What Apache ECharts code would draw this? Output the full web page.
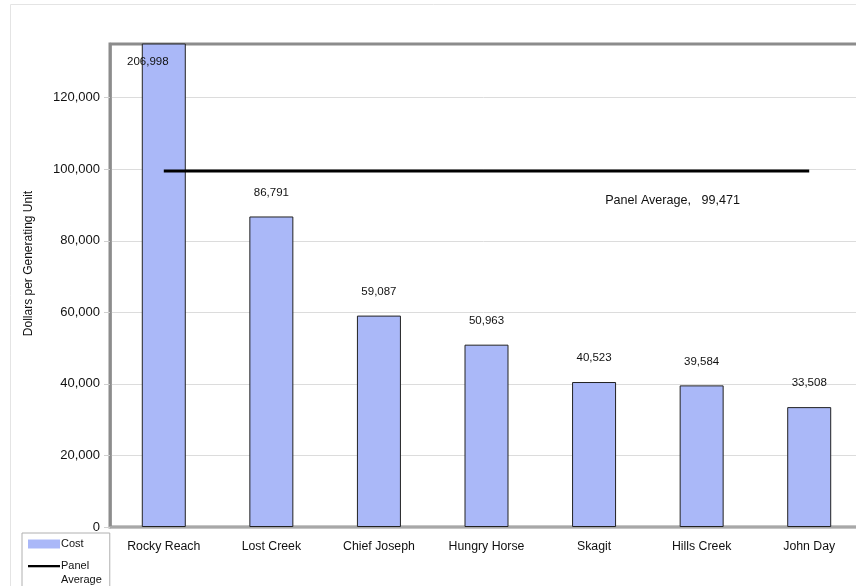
<!DOCTYPE html>
<html>
<head>
<meta charset="utf-8">
<script src="https://cdn.jsdelivr.net/npm/echarts@6/dist/echarts.min.js"></script>
<style>html,body{margin:0;padding:0;background:#fff}#c{width:856px;height:586px}</style>
</head>
<body>
<div id="c"></div>
<script>
const categories = ['Rocky Reach', 'Lost Creek', 'Chief Joseph', 'Hungry Horse', 'Skagit', 'Hills Creek', 'John Day'];
const costValues = [206998, 86791, 59087, 50963, 40523, 39584, 33508];
const panelAverage = 99471;
const averageValues = [99471, 99471, 99471, 99471, 99471, 99471, 99471];
const yTicks = [0, 20000, 40000, 60000, 80000, 100000, 120000];

const fmt = v => v.toLocaleString('en-US');
const font = 'Liberation Sans';

const chart = echarts.init(document.getElementById('c'), null, {renderer: 'canvas'});
chart.setOption({
  animation: false,
  textStyle: {fontFamily: font},
  graphic: [{
    type: 'rect', shape: {x: 10.5, y: 4.5, width: 900, height: 620},
    style: {fill: 'none', stroke: '#e4e4e4', lineWidth: 1}, silent: true, z: -10
  }],
  grid: {left: 110, top: 44, width: 753, bottom: 59, outerBoundsMode: 'none', containLabel: false,
    show: true, borderColor: '#8c8c8c', borderWidth: 3, backgroundColor: 'transparent'},
  legend: {
    orient: 'vertical', left: 22, top: 533, height: 120, itemWidth: 32, itemHeight: 9, itemGap: -6,
    padding: [4, 8, 8, 6], borderColor: '#b0b0b0', borderWidth: 1, backgroundColor: '#fff',
    textStyle: {fontFamily: font, fontSize: 11, color: '#111', padding: [0, 0, 0, -4], lineHeight: 14},
    data: [
      {name: 'Cost', icon: 'rect', itemStyle: {borderWidth: 0}},
      {name: 'Panel Average', icon: 'path://M0,0 M0,3.5 L32,3.5 L32,5.8 L0,5.8 Z M32,9'}
    ],
    formatter: n => n === 'Panel Average' ? ' \nPanel\nAverage' : n
  },
  xAxis: {
    type: 'category', data: categories, boundaryGap: true,
    axisLine: {lineStyle: {color: '#a8a8a8', width: 2}},
    axisTick: {show: false},
    axisLabel: {color: '#111', fontSize: 12.3, margin: 14, fontFamily: font}
  },
  yAxis: {
    type: 'value', min: 0, max: 135000, interval: 20000,
    name: 'Dollars per Generating Unit', nameLocation: 'middle', nameGap: 75,
    nameTextStyle: {color: '#111', fontSize: 12, fontFamily: font, padding: [0, 0, 0, 44]},
    axisLine: {show: true, lineStyle: {color: '#8c8c8c', width: 2.5}},
    axisTick: {show: true, length: 6, lineStyle: {color: '#d0d0d0'}, customValues: yTicks},
    splitLine: {lineStyle: {color: '#dcdcdc', width: 1}},
    axisLabel: {color: '#111', fontSize: 13, margin: 10, fontFamily: font, customValues: yTicks,
      formatter: v => yTicks.includes(v) ? fmt(v) : ''}
  },
  series: [{
    name: 'Cost', type: 'bar', barWidth: 44, clip: true,
    itemStyle: {color: '#aab8f8', borderColor: '#222', borderWidth: 1},
    label: {show: true, position: 'top', distance: 18, color: '#111', fontSize: 11.5, fontFamily: font,
      formatter: p => fmt(p.value)},
    data: costValues.map((v, i) => i === 0 ? {value: v, label: {position: 'insideTop', offset: [-16, -6]}} : v)
  }, {
    name: 'Panel Average', type: 'line', symbol: 'circle', symbolSize: 0, showSymbol: true,
    lineStyle: {color: '#000', width: 3},
    itemStyle: {color: '#000'},
    label: {show: false},
    data: averageValues.map((v, i) => i === 5 ? {value: v, label: {show: true, position: 'bottom', distance: 23, offset: [-29, 0], color: '#111', fontSize: 12.6, fontFamily: font,
      formatter: () => 'Panel Average,   ' + fmt(panelAverage)}} : v),
    z: 5
  }]
});
</script>
</body>
</html>
